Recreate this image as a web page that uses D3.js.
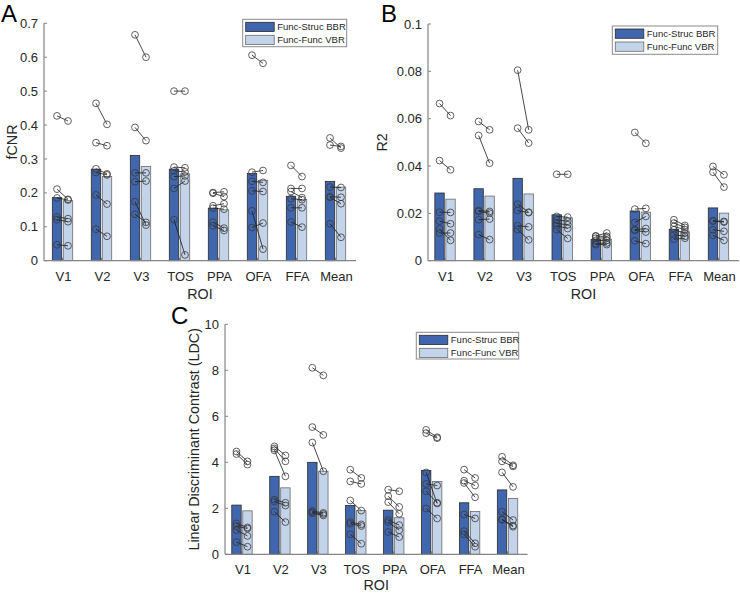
<!DOCTYPE html>
<html><head><meta charset="utf-8">
<script src="https://cdn.jsdelivr.net/npm/d3@7"></script>
<style>
html,body{margin:0;padding:0;background:#fff;}
svg{display:block;font-family:"Liberation Sans",Arial,Helvetica,sans-serif;}
</style></head>
<body><svg id="chart" width="740" height="593"></svg>
<script>
// ---------- DATA ----------
const categories = ["V1","V2","V3","TOS","PPA","OFA","FFA","Mean"];
const seriesNames = ["Func-Struc BBR","Func-Func VBR"];

// Panel A: fCNR
const fcnrBarBBR = [0.186,0.270,0.310,0.270,0.155,0.257,0.190,0.234];
const fcnrBarVBR = [0.177,0.248,0.278,0.256,0.150,0.237,0.181,0.217];
const fcnrPtsBBR = [
  [0.427,0.211,0.185,0.129,0.121,0.047],
  [0.464,0.348,0.271,0.260,0.194,0.093],
  [0.666,0.393,0.259,0.233,0.174,0.137],
  [0.500,0.276,0.265,0.248,0.213,0.121],
  [0.201,0.199,0.162,0.155,0.114,0.103],
  [0.606,0.261,0.234,0.206,0.147,0.098],
  [0.281,0.213,0.204,0.183,0.156,0.114],
  [0.362,0.341,0.217,0.189,0.187,0.109]];
const fcnrPtsVBR = [
  [0.412,0.181,0.179,0.124,0.115,0.044],
  [0.402,0.339,0.256,0.253,0.167,0.072],
  [0.600,0.354,0.259,0.235,0.105,0.113],
  [0.500,0.274,0.262,0.250,0.235,0.017],
  [0.203,0.189,0.168,0.152,0.096,0.089],
  [0.582,0.266,0.231,0.204,0.034,0.111],
  [0.248,0.213,0.186,0.180,0.156,0.099],
  [0.332,0.337,0.216,0.187,0.168,0.069]];
const fcnrTicks = [0,0.1,0.2,0.3,0.4,0.5,0.6,0.7];

// Panel B: R2
const r2BarBBR = [0.0286,0.0304,0.0348,0.0194,0.0090,0.0210,0.0133,0.0223];
const r2BarVBR = [0.0260,0.0273,0.0282,0.0181,0.0091,0.0205,0.0122,0.0201];
const r2PtsBBR = [
  [0.0664,0.0423,0.0205,0.0167,0.0134,0.0117],
  [0.0588,0.0529,0.0212,0.0208,0.0173,0.0110],
  [0.0805,0.0560,0.0239,0.0212,0.0148,0.0131],
  [0.0365,0.0187,0.0172,0.0157,0.0148,0.0131],
  [0.0105,0.0103,0.0095,0.0085,0.0072,0.0068],
  [0.0542,0.0218,0.0162,0.0131,0.0128,0.0084],
  [0.0173,0.0159,0.0145,0.0131,0.0110,0.0091],
  [0.0398,0.0374,0.0169,0.0167,0.0131,0.0107]];
const r2PtsVBR = [
  [0.0613,0.0384,0.0204,0.0156,0.0086,0.0117],
  [0.0553,0.0412,0.0208,0.0201,0.0176,0.0089],
  [0.0553,0.0497,0.0205,0.0203,0.0143,0.0088],
  [0.0365,0.0184,0.0167,0.0152,0.0136,0.0094],
  [0.0117,0.0103,0.0097,0.0086,0.0075,0.0068],
  [0.0496,0.0221,0.0187,0.0136,0.0121,0.0072],
  [0.0149,0.0141,0.0131,0.0117,0.0103,0.0095],
  [0.0363,0.0311,0.0166,0.0163,0.0124,0.0086]];
const r2Ticks = [0,0.02,0.04,0.06,0.08,0.1];

// Panel C: LDC
const ldcBarBBR = [2.14,3.39,4.00,2.12,1.92,3.65,2.24,2.80];
const ldcBarVBR = [1.89,2.89,3.61,1.90,1.59,3.17,1.86,2.43];
const ldcPtsBBR = [
  [4.47,4.36,1.34,1.23,1.05,0.53],
  [4.69,4.60,4.52,2.38,2.30,1.85],
  [8.11,5.53,4.86,1.88,1.83,1.79],
  [3.68,3.17,2.34,1.40,1.33,0.87],
  [2.81,2.53,2.27,1.49,1.40,0.97],
  [5.41,5.27,3.56,3.06,2.74,1.99],
  [3.68,3.20,3.10,1.73,1.01,0.87],
  [4.24,4.04,3.56,1.85,1.52,1.50]];
const ldcPtsVBR = [
  [4.04,3.90,1.17,1.12,0.80,0.33],
  [4.30,4.04,3.39,2.24,2.12,1.40],
  [7.78,5.19,3.61,1.80,1.75,1.69],
  [3.32,3.06,1.90,1.30,1.23,0.46],
  [2.74,2.06,1.76,1.27,1.05,0.75],
  [5.09,5.05,2.21,2.99,2.24,1.56],
  [3.32,2.99,2.48,1.56,0.48,0.33],
  [3.87,3.82,2.93,1.49,1.25,1.20]];
const ldcTicks = [0,2,4,6,8,10];

// ---------- LAYOUT / STYLE ----------
const COL_DARK = "#4066ad", COL_LIGHT = "#c3d3ea";
const AXIS_COL = "#858585", TEXT_COL = "#262626";

const panels = [
  {letter:"A", lx:1, ly:22, ylabel:"fCNR", axisX:44, bandX:[44,356], xEnd:356, yTop:23.3, yBot:260.7,
   max:0.7, ticks:fcnrTicks, bars:[fcnrBarBBR,fcnrBarVBR], pts:[fcnrPtsBBR,fcnrPtsVBR],
   ylabX:17, tickBase:280.5, roiBase:299, legend:{x:242.7,y:19.3,w:104,h:27.4}},
  {letter:"B", lx:381, ly:22, ylabel:"R2", axisX:428, bandX:[426.5,739], xEnd:739, yTop:24, yBot:260.7,
   max:0.1, ticks:r2Ticks, bars:[r2BarBBR,r2BarVBR], pts:[r2PtsBBR,r2PtsVBR],
   ylabX:387, tickBase:280.5, roiBase:299, legend:{x:612.3,y:26,w:105.4,h:28.3}},
  {letter:"C", lx:171, ly:324, ylabel:"Linear Discriminant Contrast (LDC)", axisX:225, bandX:[224,527.5], xEnd:527.5, yTop:324.3, yBot:554.3,
   max:10, ticks:ldcTicks, bars:[ldcBarBBR,ldcBarVBR], pts:[ldcPtsBBR,ldcPtsVBR],
   ylabX:199, tickBase:574, roiBase:590, legend:{x:416.3,y:332.3,w:102.4,h:26.7}}
];

const svg = d3.select("#chart");
const fmt = d => d === 0 ? "0" : String(+d.toFixed(4));

panels.forEach(p => {
  const g = svg.append("g");
  const x = d3.scaleBand().domain(categories).range(p.bandX).padding(0);
  const y = d3.scaleLinear().domain([0, p.max]).range([p.yBot, p.yTop]);
  const cx = c => x(c) + x.bandwidth()/2 - 1;
  const offs = [-5.5, 5.5];
  const bw = 9.4;

  // x tick marks (inward)
  categories.forEach(c => {
    g.append("line").attr("x1", cx(c)).attr("x2", cx(c))
      .attr("y1", p.yBot).attr("y2", p.yBot-3).attr("stroke", AXIS_COL).attr("stroke-width",1);
  });

  // bars
  [0,1].forEach(s => {
    g.selectAll(null).data(categories).enter().append("rect")
      .attr("x", c => cx(c) + offs[s] - bw/2)
      .attr("y", (c,i) => y(p.bars[s][i]))
      .attr("width", bw)
      .attr("height", (c,i) => y(0) - y(p.bars[s][i]))
      .attr("fill", s===0 ? COL_DARK : COL_LIGHT)
      .attr("stroke", s===0 ? "#2b2b2b" : "#6b6b6b")
      .attr("stroke-width", 0.8);
  });

  // axes lines
  g.append("line").attr("x1", p.axisX).attr("x2", p.xEnd).attr("y1", p.yBot).attr("y2", p.yBot)
    .attr("stroke", AXIS_COL).attr("stroke-width", 1.2);
  g.append("line").attr("x1", p.axisX).attr("x2", p.axisX).attr("y1", p.yBot).attr("y2", p.yTop)
    .attr("stroke", AXIS_COL).attr("stroke-width", 1.2);

  // y ticks + labels
  p.ticks.forEach(t => {
    g.append("line").attr("x1", p.axisX).attr("x2", p.axisX+3).attr("y1", y(t)).attr("y2", y(t))
      .attr("stroke", AXIS_COL).attr("stroke-width", 1);
    g.append("text").attr("x", p.axisX-6).attr("y", y(t)).attr("dy","0.35em")
      .attr("text-anchor","end").attr("font-size","13px").attr("fill", TEXT_COL).text(fmt(t));
  });

  // x labels
  categories.forEach(c => {
    g.append("text").attr("x", x(c)+x.bandwidth()/2).attr("y", p.tickBase)
      .attr("text-anchor","middle").attr("font-size","13px").attr("fill", TEXT_COL).text(c);
  });
  g.append("text").attr("x", (p.axisX+p.xEnd)/2).attr("y", p.roiBase)
    .attr("text-anchor","middle").attr("font-size","14.3px").attr("fill", TEXT_COL).text("ROI");
  g.append("text").attr("transform", `translate(${p.ylabX},${(p.yTop+p.yBot)/2}) rotate(-90)`)
    .attr("text-anchor","middle").attr("font-size","14.3px").attr("fill", TEXT_COL).text(p.ylabel);

  // paired lines and points
  categories.forEach((c,i) => {
    const a = p.pts[0][i], b = p.pts[1][i];
    a.forEach((v,j) => {
      g.append("line").attr("x1", cx(c)+offs[0]).attr("y1", y(v))
        .attr("x2", cx(c)+offs[1]).attr("y2", y(b[j]))
        .attr("stroke","#1a1a1a").attr("stroke-width",0.8);
    });
    [a,b].forEach((arr,s) => {
      arr.forEach(v => {
        g.append("circle").attr("cx", cx(c)+offs[s]).attr("cy", y(v)).attr("r", 3.4)
          .attr("fill","none").attr("stroke","#3a3a3a").attr("stroke-width",0.8);
      });
    });
  });

  // legend
  const L = p.legend;
  const lg = g.append("g");
  lg.append("rect").attr("x", L.x).attr("y", L.y).attr("width", L.w).attr("height", L.h)
    .attr("fill","#fff").attr("stroke","#8a8a8a").attr("stroke-width",1);
  seriesNames.forEach((n,s) => {
    const ry = L.y + 3 + s*13;
    lg.append("rect").attr("x", L.x+3).attr("y", ry).attr("width", 28.5).attr("height", 9.3)
      .attr("fill", s===0 ? COL_DARK : COL_LIGHT)
      .attr("stroke", s===0 ? "#2b2b2b" : "#6b6b6b").attr("stroke-width",0.8);
    lg.append("text").attr("x", L.x+34.5).attr("y", ry+4.8).attr("dy","0.35em")
      .attr("font-size","9.5px").attr("fill", TEXT_COL).text(n);
  });

  // panel letter
  g.append("text").attr("x", p.lx).attr("y", p.ly).attr("font-size","24px").attr("fill","#000").text(p.letter);
});
</script></body></html>
